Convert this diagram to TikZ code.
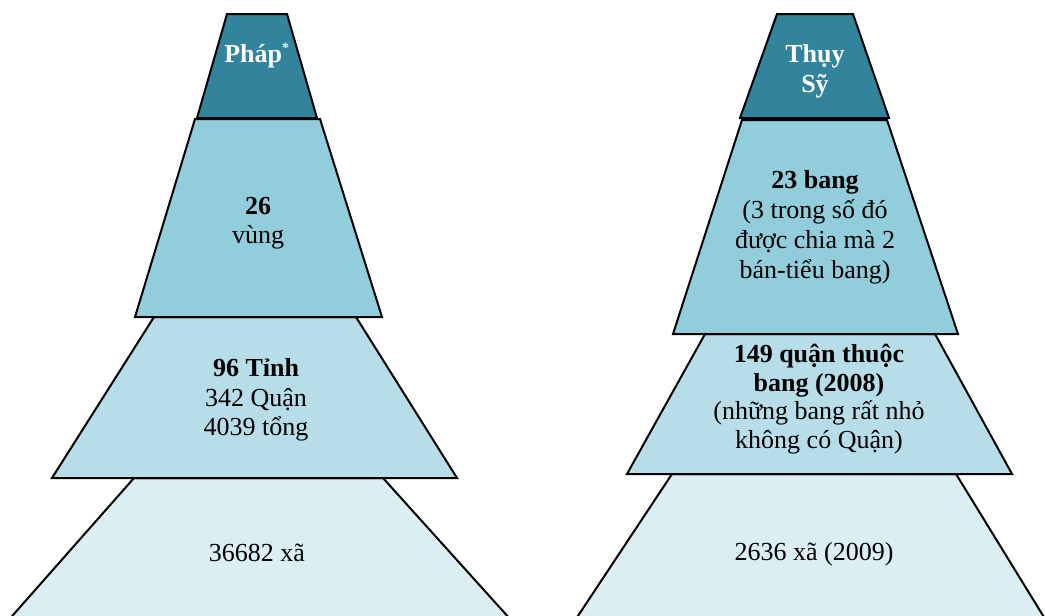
\documentclass[tikz,border=0pt]{standalone}
\usepackage{fontspec}
\setmainfont{Liberation Serif}
\begin{document}
\begin{tikzpicture}[x=1pt,y=-1pt,
  tier/.style={draw=black,line width=2pt,line join=miter},
  lvlA/.style={tier,fill=tealdark},
  lvlB/.style={tier,fill=tealmid},
  lvlC/.style={tier,fill=teallight},
  lvlD/.style={tier,fill=tealpale},
  txt/.style={inner sep=0pt,anchor=base,font=\fontsize{26}{30}\selectfont,text=black},
  hdr/.style={txt,text=white,font=\fontsize{26}{30}\selectfont\bfseries},
  bold/.style={txt,font=\fontsize{26}{30}\selectfont\bfseries}]
\definecolor{tealdark}{HTML}{31849B}
\definecolor{tealmid}{HTML}{92CDDC}
\definecolor{teallight}{HTML}{B7DEE8}
\definecolor{tealpale}{HTML}{DAEEF3}
\useasboundingbox (0,0) rectangle (1045,616);
\clip (0,0) rectangle (1045,616);

% ---- France ----
\draw[lvlD] (134,478) -- (383,478) -- (529,640) -- (-9,640) -- cycle;
\draw[lvlC] (154,317) -- (356,317) -- (457,478) -- (52,478) -- cycle;
\draw[lvlB] (195,119) -- (320,119) -- (382,317) -- (135,317) -- cycle;
\draw[lvlA] (227,14) -- (287,14) -- (317,118) -- (197,118) -- cycle;

\node[hdr] (fr0) at (257,62) {Pháp\textsuperscript{\fontsize{14}{14}\selectfont*}};
\node[bold] (fr1a) at (258,214) {26};
\node[txt] (fr1b) at (258,243) {vùng};
\node[bold] (fr2a) at (256,376) {96 Tỉnh};
\node[txt] (fr2b) at (256,406) {342 Quận};
\node[txt] (fr2c) at (256,435) {4039 tổng};
\node[txt] (fr3) at (257,561) {36682 xã};

% ---- Switzerland ----
\draw[lvlD] (672,474) -- (956,474) -- (1058,640) -- (562,640) -- cycle;
\draw[lvlC] (705,334) -- (935,334) -- (1012,474) -- (627,474) -- cycle;
\draw[lvlB] (742,120) -- (887,120) -- (958,334) -- (673,334) -- cycle;
\draw[lvlA] (777,14) -- (853,14) -- (889,118) -- (740,118) -- cycle;

\node[hdr] (ch0a) at (815,62) {Thụy};
\node[hdr] (ch0b) at (815,92) {Sỹ};
\node[bold] (ch1a) at (815,188) {23 bang};
\node[txt] (ch1b) at (815,218) {(3 trong số đó};
\node[txt] (ch1c) at (815,248) {được chia mà 2};
\node[txt] (ch1d) at (815,278) {bán-tiểu bang)};
\node[bold] (ch2a) at (819,362) {149 quận thuộc};
\node[bold] (ch2b) at (819,391) {bang (2008)};
\node[txt] (ch2c) at (819,419) {(những bang rất nhỏ};
\node[txt] (ch2d) at (819,448) {không có Quận)};
\node[txt] (ch3) at (814,560) {2636 xã (2009)};
\end{tikzpicture}
\end{document}
